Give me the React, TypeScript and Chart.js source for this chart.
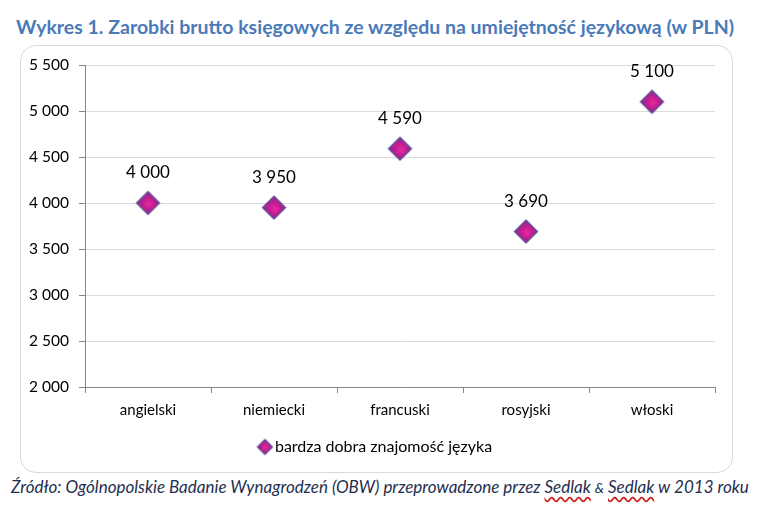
import { useEffect, useRef } from 'react';
import { Chart, registerables } from 'chart.js';

Chart.register(...registerables);

const languages = ['angielski', 'niemiecki', 'francuski', 'rosyjski', 'włoski'];
const salaries = [4000, 3950, 4590, 3690, 5100];
const seriesName = 'bardza dobra znajomość języka';
const yMin = 2000;
const yMax = 5500;
const yStep = 500;

const FONT = 'Lato, "Open Sans", sans-serif';

const fmt = (v: number) => String(v).replace(/\B(?=(\d{3})+(?!\d))/g, ' ');

// diamond marker with a magenta/purple glow, drawn once on a small canvas
function makeDiamond(r: number) {
  const size = Math.ceil(r * 2 + 4);
  const c = document.createElement('canvas');
  c.width = size;
  c.height = size;
  const g = c.getContext('2d')!;
  const m = size / 2;
  const grad = g.createRadialGradient(m + r * 0.1, m + r * 0.1, 0, m, m, r);
  grad.addColorStop(0, '#ec2aa0');
  grad.addColorStop(0.5, '#c21d90');
  grad.addColorStop(1, '#7630a0');
  g.beginPath();
  g.moveTo(m, m - r);
  g.lineTo(m + r, m);
  g.lineTo(m, m + r);
  g.lineTo(m - r, m);
  g.closePath();
  g.fillStyle = grad;
  g.fill();
  g.lineWidth = 1.2;
  g.strokeStyle = '#5b4a8e';
  g.stroke();
  return c;
}

const valueLabels = {
  id: 'valueLabels',
  afterDatasetsDraw(chart: any) {
    const { ctx } = chart;
    const meta = chart.getDatasetMeta(0);
    ctx.save();
    ctx.font = `17px ${FONT}`;
    ctx.fillStyle = '#000';
    ctx.textAlign = 'center';
    ctx.textBaseline = 'middle';
    meta.data.forEach((pt: any, i: number) => {
      ctx.fillText(fmt(salaries[i]), pt.x, pt.y - 30);
    });
    ctx.restore();
  },
};

// nudge the legend a little to the right, as in the original
const legendShift = {
  id: 'legendShift',
  afterLayout(chart: any) {
    if (chart.legend) {
      chart.legend.left += 10;
      chart.legend.right += 10;
    }
  },
};

export default function App() {
  const canvasRef = useRef<HTMLCanvasElement>(null);
  const chartRef = useRef<Chart | null>(null);

  useEffect(() => {
    if (!canvasRef.current) return;
    if (chartRef.current) chartRef.current.destroy();

    const bigDiamond = makeDiamond(11.5);
    const smallDiamond = makeDiamond(7.5);

    chartRef.current = new Chart(canvasRef.current, {
      type: 'line',
      data: {
        labels: languages,
        datasets: [
          {
            label: seriesName,
            data: salaries,
            showLine: false,
            pointStyle: bigDiamond as any,
            pointRadius: 12,
            pointHoverRadius: 12,
            backgroundColor: '#c21d90',
            borderColor: '#5b4a8e',
          },
        ],
      },
      options: {
        animation: false,
        responsive: false,
        maintainAspectRatio: false,
        layout: { padding: { top: 20, right: 18, bottom: 8, left: 0 } },
        plugins: {
          tooltip: { enabled: false },
          legend: {
            position: 'bottom',
            labels: {
              usePointStyle: true,
              pointStyleWidth: 4,
              padding: 10,
              color: '#000',
              font: { family: FONT, size: 16 },
              generateLabels: () => [
                {
                  text: seriesName,
                  pointStyle: smallDiamond as any,
                  fillStyle: '#c21d90',
                  strokeStyle: '#5b4a8e',
                  lineWidth: 0,
                  hidden: false,
                  datasetIndex: 0,
                },
              ],
            },
          },
        },
        scales: {
          x: {
            offset: true,
            grid: {
              offset: true,
              drawOnChartArea: false,
              drawTicks: true,
              tickLength: 6,
              tickColor: '#868686',
            },
            border: { color: '#868686' },
            ticks: {
              color: '#000',
              padding: 8,
              font: { family: FONT, size: 15 },
            },
            afterFit: (s: any) => {
              s.height = 42;
            },
          },
          y: {
            min: yMin,
            max: yMax,
            grid: {
              color: '#d9d9d9',
              tickLength: 6,
              tickColor: '#868686',
            },
            border: { color: '#868686' },
            ticks: {
              stepSize: yStep,
              color: '#000',
              padding: 10,
              font: { family: FONT, size: 15.5 },
              callback: (v: any) => fmt(Number(v)),
            },
            afterFit: (s: any) => {
              s.width = 65;
            },
          },
        },
      },
      plugins: [valueLabels, legendShift],
    });

    return () => {
      if (chartRef.current) {
        chartRef.current.destroy();
        chartRef.current = null;
      }
    };
  }, []);

  return (
    <div style={{ position: 'absolute', left: 0, top: 0, width: 773, height: 505, background: '#fff' }}>
      <div
        style={{
          position: 'absolute',
          left: 16,
          top: 15,
          fontFamily: FONT,
          fontWeight: 'bold',
          fontSize: 19.5,
          color: '#4a7ab8',
          whiteSpace: 'nowrap',
          lineHeight: '24px',
        }}
      >
        Wykres 1. Zarobki brutto księgowych ze względu na umiejętność językową (w PLN)
      </div>
      <div
        style={{
          position: 'absolute',
          left: 20,
          top: 45,
          width: 713,
          height: 428,
          border: '1px solid #d9d9d9',
          borderRadius: 16,
          boxSizing: 'border-box',
        }}
      />
      <canvas
        ref={canvasRef}
        width={713}
        height={428}
        style={{ position: 'absolute', left: 20, top: 45, width: 713, height: 428 }}
      />
      <div
        style={{
          position: 'absolute',
          left: 11,
          top: 476,
          fontFamily: FONT,
          fontStyle: 'italic',
          fontSize: 17,
          color: '#1f2f50',
          whiteSpace: 'nowrap',
          lineHeight: '22px',
        }}
      >
        Źródło: Ogólnopolskie Badanie Wynagrodzeń (OBW) przeprowadzone przez{' '}
        <span style={{ textDecoration: 'underline wavy #d02020', textUnderlineOffset: 3 }}>Sedlak</span>{' '}
        <span style={{ fontSize: 14 }}>&amp;</span>{' '}
        <span style={{ textDecoration: 'underline wavy #d02020', textUnderlineOffset: 3 }}>Sedlak</span> w 2013 roku
      </div>
    </div>
  );
}
